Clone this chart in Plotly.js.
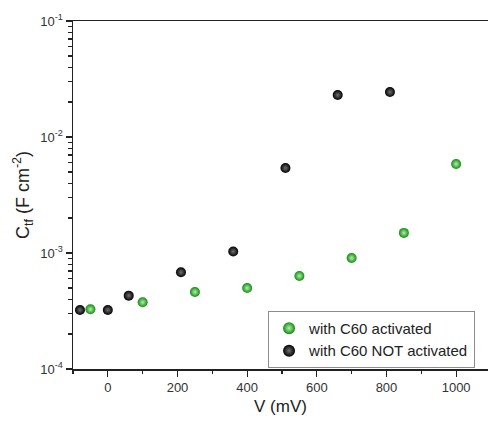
<!DOCTYPE html>
<html>
<head>
<meta charset="utf-8">
<script src="https://cdn.plot.ly/plotly-3.0.1.min.js"></script>
<style>html,body{margin:0;padding:0;background:#fff;}#chart{width:488px;height:421px;}</style>
</head>
<body>
<div id="chart"></div>
<script>
// Data
const activatedV = [-50, 100, 250, 400, 550, 700, 850, 1000];
const activatedC = [3.27e-4, 3.76e-4, 4.61e-4, 4.99e-4, 6.34e-4, 9.05e-4, 1.49e-3, 5.85e-3];
const notActivatedV = [-80, 0, 60, 210, 360, 510, 660, 810];
const notActivatedC = [3.23e-4, 3.23e-4, 4.29e-4, 6.82e-4, 1.03e-3, 5.4e-3, 2.30e-2, 2.44e-2];
const xTickVals = [0, 200, 400, 600, 800, 1000];
const yTickVals = [1e-4, 1e-3, 1e-2, 1e-1];
const yTickText = ['10<sup>-4</sup>', '10<sup>-3</sup>', '10<sup>-2</sup>', '10<sup>-1</sup>'];
const yMinorTickVals = [
  2e-4, 3e-4, 4e-4, 5e-4, 6e-4, 7e-4, 8e-4, 9e-4,
  2e-3, 3e-3, 4e-3, 5e-3, 6e-3, 7e-3, 8e-3, 9e-3,
  2e-2, 3e-2, 4e-2, 5e-2, 6e-2, 7e-2, 8e-2, 9e-2
];

const fontFam = 'Liberation Sans, Arial, sans-serif';

const traces = [
  {
    x: activatedV, y: activatedC, type: 'scatter', mode: 'markers',
    name: 'with C60 activated',
    marker: {size: 10, color: '#0f8f0c', gradient: {type: 'radial', color: '#b8ecb4'},
             line: {width: 0}}
  },
  {
    x: notActivatedV, y: notActivatedC, type: 'scatter', mode: 'markers',
    name: 'with C60 NOT activated',
    marker: {size: 10, color: '#000000', gradient: {type: 'radial', color: '#707070'},
             line: {width: 0}}
  }
];

const layout = {
  width: 488, height: 421,
  margin: {l: 73, r: 0, t: 21, b: 52},
  paper_bgcolor: '#ffffff', plot_bgcolor: '#ffffff',
  font: {family: fontFam, color: '#333', size: 12},
  showlegend: true,
  legend: {
    x: 0.47, y: 0.167, xanchor: 'left', yanchor: 'top',
    bordercolor: '#8c8c8c', borderwidth: 1, bgcolor: '#ffffff',
    font: {family: fontFam, size: 15, color: '#222'},
    itemsizing: 'constant', tracegroupgap: 0
  },
  xaxis: {
    range: [-100, 1091.5],
    tickvals: xTickVals,
    ticks: 'outside', ticklen: 6, tickwidth: 1.2, tickcolor: '#222',
    minor: {dtick: 100, tick0: 0, ticks: 'outside', ticklen: 3, tickcolor: '#222', tickwidth: 1.2},
    showline: true, linecolor: '#222', linewidth: 1.5, mirror: true,
    showgrid: false, zeroline: false,
    tickfont: {size: 13, color: '#333'},
    title: {text: 'V (mV)', font: {size: 17, color: '#222'}, standoff: 6}
  },
  yaxis: {
    type: 'log',
    range: [-4, -1],
    tickvals: yTickVals, ticktext: yTickText,
    ticks: 'outside', ticklen: 6, tickwidth: 1.2, tickcolor: '#222',
    minor: {tickvals: yMinorTickVals, ticks: 'outside', ticklen: 4, tickcolor: '#222', tickwidth: 1.2, showgrid: false},
    showline: true, linecolor: '#222', linewidth: 1.5, mirror: false,
    showgrid: false, zeroline: false,
    tickfont: {size: 13, color: '#333'},
    title: {text: 'C<sub>tf</sub> (F cm<sup>-2</sup>)', font: {size: 18, color: '#222'}, standoff: 6}
  }
};

Plotly.newPlot('chart', traces, layout, {displayModeBar: false, staticPlot: true});
</script>
</body>
</html>
